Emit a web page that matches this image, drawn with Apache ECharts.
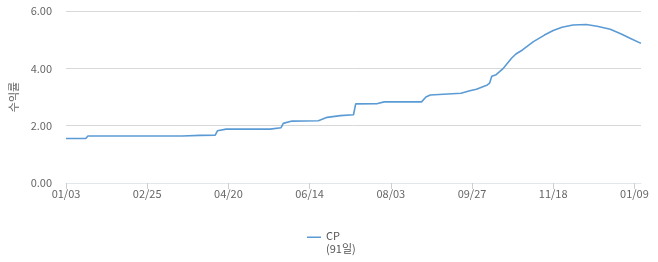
<!DOCTYPE html>
<html><head><meta charset="utf-8">
<script src="https://cdn.jsdelivr.net/npm/echarts@6/dist/echarts.min.js"></script>
<style>html,body{margin:0;padding:0;background:#fff}#c{width:658px;height:262px}</style>
</head><body><div id="c"></div>
<script>
// business-day index (x) and CP 91-day yield (%)
var dayIndex = [0, 9, 10, 53, 61, 68, 69, 73, 93, 98, 99, 103, 115, 119, 125, 131, 132, 142, 145, 162, 164, 166, 180, 184, 187, 192, 193, 194, 196, 199, 203, 205, 208, 213, 218, 222, 226, 231, 237, 242, 248, 253, 257, 262];
var cpValues = [1.55, 1.55, 1.64, 1.64, 1.66, 1.67, 1.82, 1.88, 1.88, 1.93, 2.08, 2.16, 2.17, 2.29, 2.35, 2.38, 2.76, 2.77, 2.83, 2.83, 3.00, 3.07, 3.13, 3.22, 3.27, 3.42, 3.48, 3.72, 3.78, 3.98, 4.35, 4.50, 4.64, 4.93, 5.16, 5.32, 5.43, 5.51, 5.53, 5.47, 5.36, 5.20, 5.05, 4.87];
var tickIndex = [0, 37, 74, 111, 148, 185, 222, 259];
var tickLabels = ['01/03', '02/25', '04/20', '06/14', '08/03', '09/27', '11/18', '01/09'];
var seriesName = 'CP\n(91일)';

var data = dayIndex.map(function (d, i) { return [d, cpValues[i]]; });
var font = '"Noto Sans CJK KR", "Noto Sans", sans-serif';
var chart = echarts.init(document.getElementById('c'), null, {renderer: 'canvas'});
chart.setOption({
  animation: false,
  textStyle: {fontFamily: font},
  grid: {left: 66, right: 17, top: 11, bottom: 79, containLabel: false},
  legend: {
    data: [seriesName],
    left: 302, top: 224,
    itemWidth: 14, itemHeight: 14, itemGap: 5,
    icon: 'path://M0,0L0.05,0L0.05,0.05Z M0,1.4L14,1.4L14,3L0,3Z M0,14L0.05,14L0.05,13.95Z',
    textStyle: {color: '#555', fontSize: 11, fontFamily: font, lineHeight: 13}
  },
  xAxis: {
    type: 'value', min: 0, max: 262,
    axisLine: {show: true, lineStyle: {color: '#e3e6ea', width: 1}},
    axisTick: {show: true, length: 6, customValues: tickIndex, lineStyle: {color: '#ccd0d4'}},
    splitLine: {show: false},
    axisLabel: {
      customValues: tickIndex,
      color: '#666', fontSize: 11, margin: 5, fontFamily: font,
      formatter: function (v) { var i = tickIndex.indexOf(v); return i >= 0 ? tickLabels[i] : ''; }
    }
  },
  yAxis: {
    type: 'value', min: 0, max: 6, interval: 2,
    name: '수익률', nameLocation: 'middle', nameGap: 43, nameRotate: 90,
    nameTextStyle: {color: '#666', fontSize: 11, fontFamily: font},
    axisLine: {show: false}, axisTick: {show: false},
    splitLine: {lineStyle: {color: '#d8d8d8', width: 1}},
    axisLabel: {color: '#666', fontSize: 11, margin: 14, fontFamily: font,
      formatter: function (v) { return v.toFixed(2); }}
  },
  series: [{
    name: seriesName, type: 'line', data: data,
    showSymbol: false, symbol: 'none',
    lineStyle: {color: '#5b9bd5', width: 1.6},
    itemStyle: {color: '#5b9bd5'}
  }]
});
</script></body></html>
